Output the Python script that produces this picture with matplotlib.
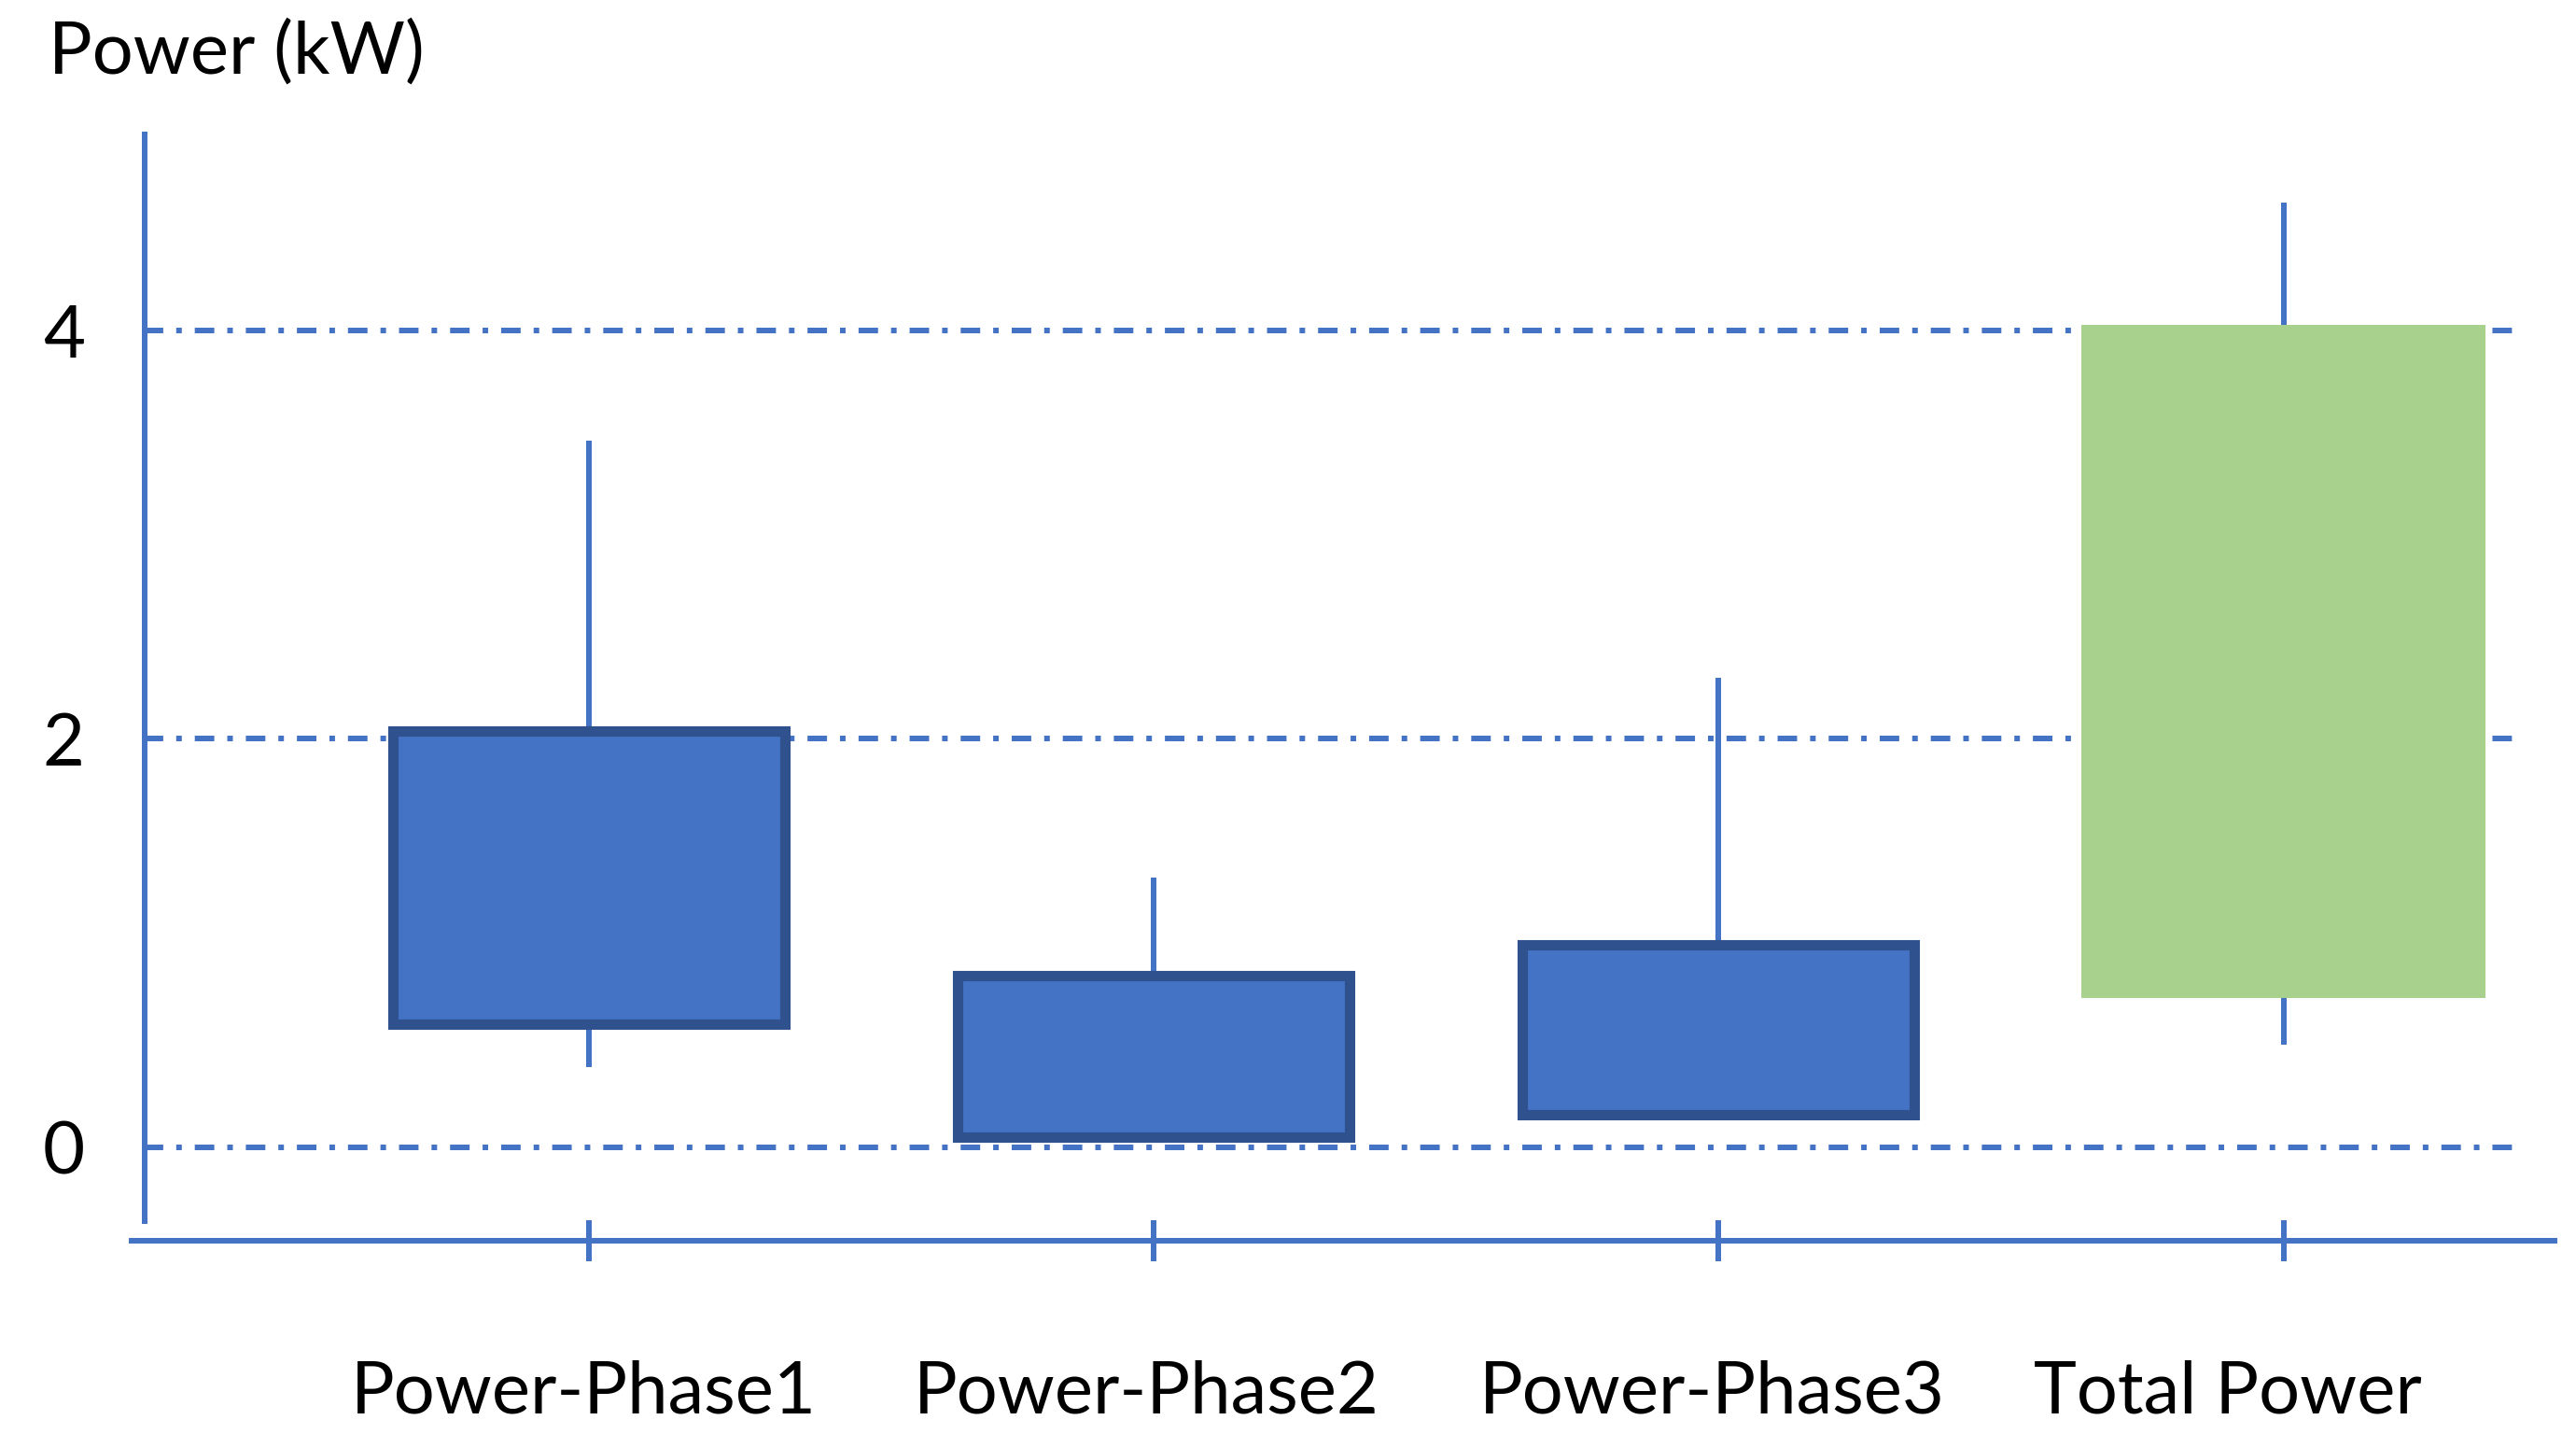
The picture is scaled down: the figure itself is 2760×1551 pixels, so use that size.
import matplotlib
matplotlib.use("Agg")
import matplotlib.pyplot as plt
import matplotlib.transforms as mtransforms
import numpy as np

# data
categories = ["Power-Phase1", "Power-Phase2", "Power-Phase3", "Total Power"]
whisker_low = [0.39, 0.03, 0.16, 0.50]
box_low = [0.60, 0.05, 0.16, 0.73]
box_high = [2.04, 0.84, 0.99, 4.03]
whisker_high = [3.46, 1.32, 2.30, 4.63]
y_ticks = [0, 2, 4]

blue = "#4472C4"
dark_blue = "#2F528F"
green = "#A9D18E"

plt.rcParams["font.family"] = ["Lato", "DejaVu Sans"]

fig = plt.figure(figsize=(27.6, 15.51), dpi=100)
ax = fig.add_axes([0.051, 0.143, 0.9407, 0.7639])

x = np.arange(len(categories))
lo = np.array(box_low)
hi = np.array(box_high)

# gridlines (dash-dot)
for yv in y_ticks:
    ax.axhline(yv, xmin=0.005, xmax=0.985, color=blue, lw=4.3,
               dashes=(3.5, 2.33, 1, 2.33), zorder=0)

# whiskers
ax.vlines(x, whisker_low, whisker_high, color=blue, lw=4.3, zorder=1)

# boxes
ax.bar(x, hi - lo, bottom=lo, width=[0.694, 0.694, 0.694, 0.716],
       color=[blue, blue, blue, green],
       edgecolor=[dark_blue, dark_blue, dark_blue, "none"],
       linewidth=[8, 8, 8, 0], zorder=2)

ax.set_xlim(-0.81, 3.48)
ax.set_ylim(-0.46, 4.96)

for s in ["top", "right"]:
    ax.spines[s].set_visible(False)
ax.spines["left"].set_position(("data", -0.787))
ax.spines["left"].set_bounds(-0.363, 4.96)
ax.spines["left"].set_color(blue)
ax.spines["left"].set_linewidth(4.3)
ax.spines["bottom"].set_color(blue)
ax.spines["bottom"].set_linewidth(4.3)

ax.set_xticks(x)
ax.set_xticklabels(categories)
ax.set_yticks(y_ticks)
ax.tick_params(axis="x", direction="inout", length=32, width=4.3,
               color=blue, labelsize=56, pad=76)
ax.tick_params(axis="y", length=0, labelsize=56, pad=46)

# labels sit a little left of their ticks in the reference
shifts = [-6, -8, -7, -60]
for lab, dx in zip(ax.get_xticklabels(), shifts):
    lab.set_transform(lab.get_transform() +
                      mtransforms.ScaledTranslation(dx / 100, 0, fig.dpi_scale_trans))

fig.text(0.019, 0.949, "Power (kW)", fontsize=56, va="baseline", ha="left")

fig.savefig("out.png", dpi=100)
